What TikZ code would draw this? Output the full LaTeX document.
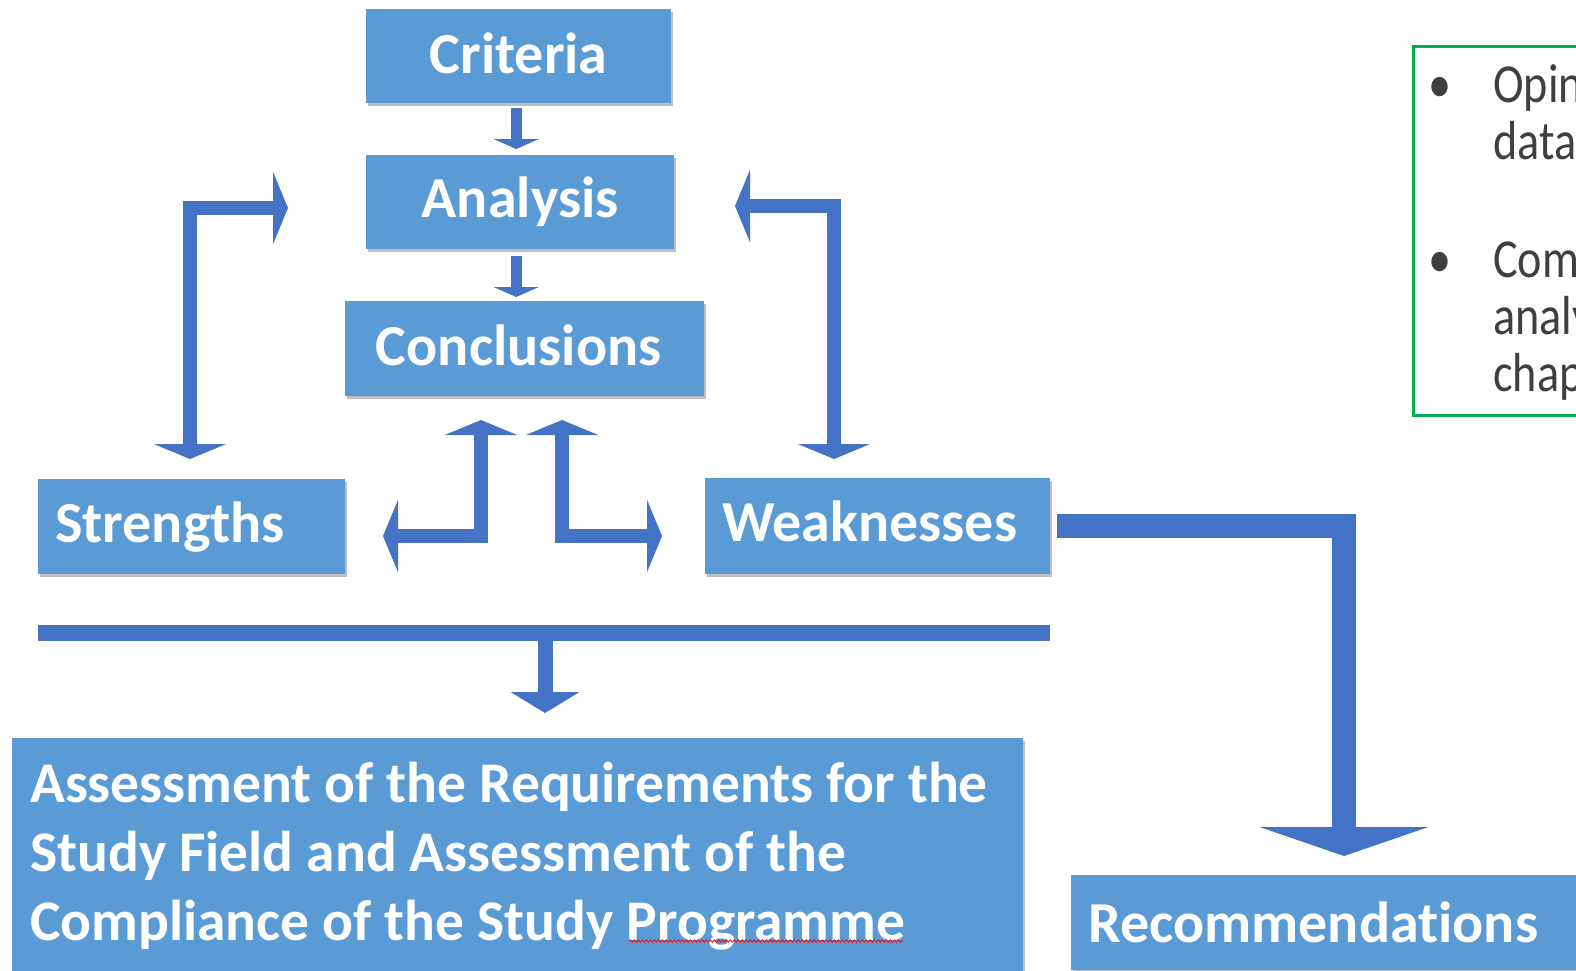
\documentclass[tikz,border=0pt]{standalone}
\usepackage{fontspec}
\setmainfont{Carlito}[Ligatures=NoCommon]
\newfontfamily\notefont{Carlito}[FakeStretch=0.84,Ligatures=NoCommon]
\usetikzlibrary{arrows.meta,shadows,decorations.pathmorphing}
\definecolor{boxblue}{HTML}{5B9BD5}
\definecolor{arrowblue}{HTML}{4472C4}
\definecolor{notegreen}{HTML}{00B050}
\definecolor{notegray}{HTML}{3F3F3F}
\tikzset{
  box/.style={fill=boxblue, draw=none, text=white, anchor=north west, inner sep=0pt,
    font=\fontsize{58}{69}\selectfont\bfseries,
    drop shadow={shadow xshift=2pt, shadow yshift=-3pt, opacity=0.25, fill=black}},
  lbox/.style={box, inner xsep=17pt, align=left},
  bigtext/.style={text=white, anchor=north west, inner sep=0pt, align=left,
    font=\fontsize{57.5}{69}\selectfont\bfseries},
  notetxt/.style={text=notegray, inner sep=0pt, align=left,
    font=\notefont\fontsize{55}{57}\selectfont},
  flow/.style={draw=arrowblue, line width=14pt, line join=miter},
}
\begin{document}
\begin{tikzpicture}[x=1pt,y=-1pt]
\useasboundingbox (0,0) rectangle (1576,970);
\clip (0,0) rectangle (1576,970);

% boxes
\node[box, minimum width=305pt, minimum height=94pt, text depth=7pt] (crit) at (366,9) {Criteria};
\node[box, minimum width=308pt, minimum height=94pt] (anal) at (366,155) {Analysis};
\node[box, minimum width=359pt, minimum height=95pt, text depth=7pt] (concl) at (345,301) {Conclusions\kern12pt};
\node[lbox, text width=273pt, minimum height=95pt] (str) at (38,479) {Strengths};
\node[lbox, text width=311pt, minimum height=96pt, text depth=10pt] (weak) at (705,478) {Weaknesses};
\node[lbox, text width=520pt, minimum height=95pt] (rec) at (1071,875) {Recommendations};
\node[box, minimum width=1011pt, minimum height=240pt] (big) at (12,738) {};
\node[bigtext] (bigt) at (30,752) {\rule{0pt}{50pt}Assessment of the Requirements for the\\Study Field and Assessment of the\\Compliance of the Study Programme};
\draw[red, line width=0.8pt, decorate, decoration={snake, amplitude=1.2pt, segment length=4pt}] (629,941) -- (903,941);

% note box
\node[draw=notegreen, line width=2.5pt, anchor=north west, minimum width=200pt, minimum height=369pt, inner sep=0pt] (note) at (1412,45) {};
\node[notetxt, anchor=base] (bul1) at (1440,102) {•};
\node[notetxt, anchor=north west] (t1) at (1493,52) {\rule{0pt}{50pt}Opin\\data};
\node[notetxt, anchor=base] (bul2) at (1440,277) {•};
\node[notetxt, anchor=north west] (t2) at (1493,227) {\rule{0pt}{50pt}Com\\analy\\chap};

% vertical flow arrows
\draw[flow, line width=11pt, -{Triangle[width=45pt,length=10pt]}]
  ([xshift=-2.5pt,yshift=-5pt]crit.south) -- ([xshift=-4pt,yshift=6pt]anal.north);
\draw[flow, line width=11pt, -{Triangle[width=45pt,length=10pt]}]
  ([xshift=-4pt,yshift=-7pt]anal.south) -- ([xshift=-8.5pt,yshift=4pt]concl.north);

% elbow arrows
\coordinate (lA) at (190,459);
\coordinate (lB) at (288,208);
\draw[flow, {Triangle[width=72pt,length=15pt]}-{Triangle[width=72pt,length=15pt]}] (lA) |- (lB);
\coordinate (rA) at (735,206);
\coordinate (rB) at (834,459);
\draw[flow, {Triangle[width=72pt,length=15pt]}-{Triangle[width=72pt,length=15pt]}] (rA) -| (rB);
\coordinate (mA) at (481,420);
\coordinate (mB) at (383,536);
\draw[flow, {Triangle[width=72pt,length=15pt]}-{Triangle[width=72pt,length=15pt]}] (mA) |- (mB);
\coordinate (nA) at (562,420);
\coordinate (nB) at (662,536);
\draw[flow, {Triangle[width=72pt,length=15pt]}-{Triangle[width=72pt,length=15pt]}] (nA) |- (nB);

% bottom bar and down arrow
\draw[flow, line width=16pt] ([yshift=-59pt]str.south west) -- ([yshift=-59pt]weak.south east);
\coordinate (bar) at (545,633);
\coordinate (barEnd) at (545,713);
\draw[flow, line width=15pt, -{Triangle[width=68pt,length=21pt]}] (bar) -- (barEnd);

% weaknesses to recommendations
\coordinate (recTip) at (1344,856);
\draw[flow, line width=24pt, -{Triangle[width=168pt,length=29pt]}] ([xshift=7pt]weak.east) -| (recTip);
\end{tikzpicture}
\end{document}
